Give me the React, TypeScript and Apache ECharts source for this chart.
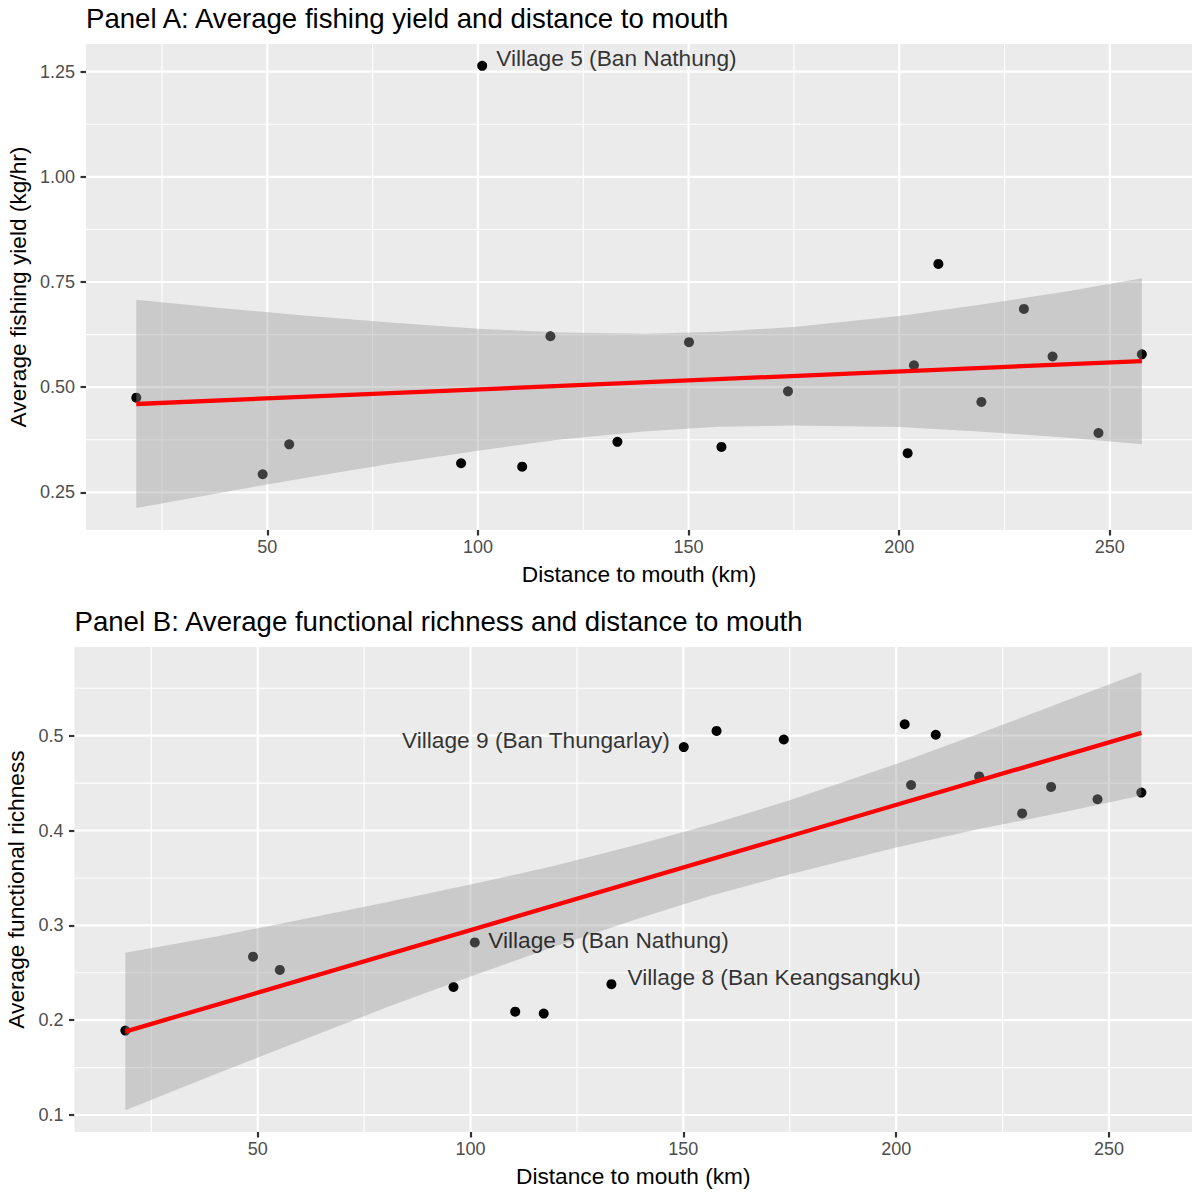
import React, { useEffect, useRef } from "react";
import * as echarts from "echarts";

// ---------------- data ----------------
const villageDistanceKm = [18.9, 48.9, 55.2, 96.0, 101.0, 110.5, 117.2, 133.1, 150.1, 157.8, 173.6, 202.0, 203.5, 209.3, 219.5, 229.6, 236.4, 247.3, 257.6];
const fishingYield = [0.475, 0.293, 0.364, 0.319, 1.264, 0.311, 0.621, 0.370, 0.607, 0.358, 0.490, 0.343, 0.552, 0.793, 0.465, 0.686, 0.573, 0.391, 0.578];
const functionalRichness = [0.189, 0.267, 0.253, 0.235, 0.282, 0.209, 0.207, 0.238, 0.488, 0.505, 0.496, 0.512, 0.448, 0.501, 0.457, 0.418, 0.446, 0.433, 0.440];

// fitted line end points and confidence band
const fitX = [18.9, 257.6];
const fitYieldY = [0.460, 0.562];
const fitRichnessY = [0.188, 0.503];
const bandX = [18.9, 40, 60, 80, 100, 120, 140, 157, 175, 200, 220, 240, 257.6];
const bandYieldLo = [0.213, 0.251, 0.286, 0.319, 0.349, 0.376, 0.395, 0.406, 0.409, 0.405, 0.394, 0.380, 0.364];
const bandYieldHi = [0.708, 0.687, 0.669, 0.653, 0.639, 0.630, 0.627, 0.632, 0.643, 0.669, 0.697, 0.728, 0.759];
const bandRichLo = [0.105, 0.143, 0.178, 0.213, 0.246, 0.278, 0.308, 0.332, 0.354, 0.382, 0.402, 0.420, 0.437];
const bandRichHi = [0.271, 0.288, 0.306, 0.324, 0.343, 0.363, 0.386, 0.407, 0.432, 0.470, 0.503, 0.537, 0.567];

// labelled villages (index into the arrays above)
const labelsYield = [{ village: 4, text: "Village 5 (Ban Nathung)" }];
const labelsRichness = [
  { village: 8, text: "Village 9 (Ban Thungarlay)" },
  { village: 4, text: "Village 5 (Ban Nathung)" },
  { village: 7, text: "Village 8 (Ban Keangsangku)" },
];

// ticks
const xTicks = [50, 100, 150, 200, 250];
const xMinor = [25, 75, 125, 175, 225];
const yTicksYield = [0.25, 0.5, 0.75, 1.0, 1.25];
const yMinorYield = [0.375, 0.625, 0.875, 1.125];
const yTicksRich = [0.1, 0.2, 0.3, 0.4, 0.5];
const yMinorRich = [0.15, 0.25, 0.35, 0.45, 0.55];

const titleA = "Panel A: Average fishing yield and distance to mouth";
const titleB = "Panel B: Average functional richness and distance to mouth";
const xTitle = "Distance to mouth (km)";
const yTitleA = "Average fishing yield (kg/hr)";
const yTitleB = "Average functional richness";

// ---------------- styling / layout ----------------
const FONT = "'Liberation Sans', Arial, Helvetica, sans-serif";
const X_RANGE = [6.96, 269.5];
const Y_RANGE_A = [0.1604, 1.3159];
const Y_RANGE_B = [0.0821, 0.5935];
const labelPlaceA: any[] = [{ position: "right", offset: [9, -8] }];
const labelPlaceB: any[] = [
  { position: "left", offset: [-9, -7.5] },
  { position: "right", offset: [8.5, -2] },
  { position: "right", offset: [11, -7.3] },
];

function gridLinesSeries(idx: number, xMaj: number[], xMin: number[], yMaj: number[], yMin: number[]) {
  return {
    type: "custom",
    xAxisIndex: idx,
    yAxisIndex: idx,
    silent: true,
    z: 1,
    data: [[xMaj[0], yMaj[0]]],
    renderItem: (params: any, api: any) => {
      const cs = params.coordSys;
      const children: any[] = [];
      const v = (val: number, w: number) => {
        const p = api.coord([val, yMaj[0]]);
        children.push({ type: "line", shape: { x1: p[0], y1: cs.y, x2: p[0], y2: cs.y + cs.height }, style: { stroke: "#ffffff", lineWidth: w } });
      };
      const h = (val: number, w: number) => {
        const p = api.coord([xMaj[0], val]);
        children.push({ type: "line", shape: { x1: cs.x, y1: p[1], x2: cs.x + cs.width, y2: p[1] }, style: { stroke: "#ffffff", lineWidth: w } });
      };
      xMin.forEach((x) => v(x, 1.1));
      yMin.forEach((y) => h(y, 1.1));
      xMaj.forEach((x) => v(x, 2.2));
      yMaj.forEach((y) => h(y, 2.2));
      return { type: "group", children };
    },
  };
}

function bandSeries(idx: number, lo: number[], hi: number[]) {
  return {
    type: "custom",
    xAxisIndex: idx,
    yAxisIndex: idx,
    silent: true,
    z: 3,
    data: [[bandX[0], lo[0]]],
    renderItem: (_params: any, api: any) => {
      const pts: number[][] = [];
      bandX.forEach((x, i) => pts.push(api.coord([x, hi[i]])));
      for (let i = bandX.length - 1; i >= 0; i--) pts.push(api.coord([bandX[i], lo[i]]));
      return { type: "polygon", shape: { points: pts }, style: { fill: "rgba(153,153,153,0.4)" } };
    },
  };
}

function xAxis(idx: number) {
  return {
    type: "value",
    gridIndex: idx,
    min: X_RANGE[0],
    max: X_RANGE[1],
    axisLine: { show: false },
    splitLine: { show: false },
    axisTick: { show: true, length: 5.5, lineStyle: { color: "#333333", width: 2.2 }, customValues: xTicks },
    axisLabel: { show: true, customValues: xTicks, margin: 8, fontSize: 18, color: "#4d4d4d", fontFamily: FONT, formatter: (v: number) => String(v) },
    name: xTitle,
    nameLocation: "middle",
    nameGap: 32,
    nameTextStyle: { fontSize: 22.7, color: "#000000", fontFamily: FONT },
  };
}

function yAxis(idx: number, range: number[], ticks: number[], digits: number, name: string, gap: number) {
  return {
    type: "value",
    gridIndex: idx,
    min: range[0],
    max: range[1],
    axisLine: { show: false },
    splitLine: { show: false },
    axisTick: { show: true, length: 5.5, lineStyle: { color: "#333333", width: 2.2 }, customValues: ticks },
    axisLabel: { show: true, customValues: ticks, margin: 11, fontSize: 18, color: "#4d4d4d", fontFamily: FONT, formatter: (v: number) => v.toFixed(digits) },
    name,
    nameLocation: "middle",
    nameRotate: 90,
    nameGap: gap,
    nameTextStyle: { fontSize: 22.7, color: "#000000", fontFamily: FONT },
  };
}

function labelSeries(idx: number, ys: number[], labels: { village: number; text: string }[], place: any[]) {
  return {
    type: "scatter",
    xAxisIndex: idx,
    yAxisIndex: idx,
    z: 10,
    silent: true,
    symbolSize: 0,
    label: { show: true, formatter: "{b}", fontSize: 22.7, color: "#000000", fontFamily: FONT, distance: 5 },
    data: labels.map((l, i) => ({
      name: l.text,
      value: [villageDistanceKm[l.village], ys[l.village]],
      label: { position: place[i].position, offset: place[i].offset },
    })),
  };
}

function panelSeries(idx: number, ys: number[], fitY: number[], lo: number[], hi: number[], yMaj: number[], yMin: number[], labels: any[], place: any[]) {
  return [
    gridLinesSeries(idx, xTicks, xMinor, yMaj, yMin),
    {
      type: "scatter",
      xAxisIndex: idx,
      yAxisIndex: idx,
      z: 2,
      silent: true,
      symbolSize: 10,
      itemStyle: { color: "#000000", opacity: 1 },
      data: villageDistanceKm.map((x, i) => [x, ys[i]]),
    },
    bandSeries(idx, lo, hi),
    {
      type: "line",
      xAxisIndex: idx,
      yAxisIndex: idx,
      z: 4,
      silent: true,
      symbol: "none",
      lineStyle: { color: "#ff0000", width: 4.3 },
      data: fitX.map((x, i) => [x, fitY[i]]),
    },
    labelSeries(idx, ys, labels, place),
  ];
}

export default function App() {
  const ref = useRef<HTMLDivElement>(null);
  useEffect(() => {
    if (!ref.current) return;
    const chart = echarts.init(ref.current, null, { renderer: "svg" });
    const option: any = {
      animation: false,
      backgroundColor: "#ffffff",
      textStyle: { fontFamily: FONT },
      title: [
        { text: titleA, left: 86, top: 4, padding: 0, textStyle: { fontSize: 27.6, fontWeight: "normal", color: "#000000", fontFamily: FONT } },
        { text: titleB, left: 74.5, top: 607, padding: 0, textStyle: { fontSize: 27.6, fontWeight: "normal", color: "#000000", fontFamily: FONT } },
      ],
      grid: [
        { left: 86, top: 44, width: 1106, height: 486, show: true, backgroundColor: "#ebebeb", borderWidth: 0, containLabel: false, outerBoundsMode: "none" },
        { left: 74.5, top: 647, width: 1117.5, height: 485, show: true, backgroundColor: "#ebebeb", borderWidth: 0, containLabel: false, outerBoundsMode: "none" },
      ],
      xAxis: [xAxis(0), xAxis(1)],
      yAxis: [
        yAxis(0, Y_RANGE_A, yTicksYield, 2, yTitleA, 52),
        yAxis(1, Y_RANGE_B, yTicksRich, 1, yTitleB, 41),
      ],
      series: [
        ...panelSeries(0, fishingYield, fitYieldY, bandYieldLo, bandYieldHi, yTicksYield, yMinorYield, labelsYield, labelPlaceA),
        ...panelSeries(1, functionalRichness, fitRichnessY, bandRichLo, bandRichHi, yTicksRich, yMinorRich, labelsRichness, labelPlaceB),
      ],
    };
    chart.setOption(option);
    return () => chart.dispose();
  }, []);
  return <div ref={ref} style={{ position: "absolute", left: 0, top: 0, width: 1192, height: 1193 }} />;
}
